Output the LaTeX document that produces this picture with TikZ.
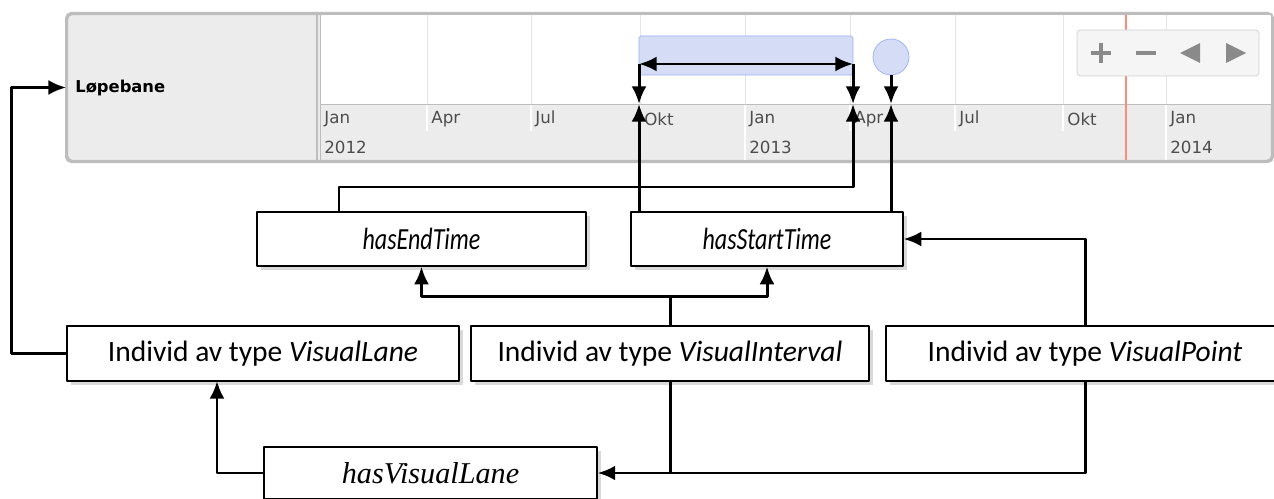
\documentclass[tikz,border=0pt]{standalone}
\usepackage{fontspec}
\setmainfont{Carlito}
\newfontfamily\narrowit[FakeStretch=0.78]{Carlito}
\newfontfamily\verd{DejaVu Sans}
\newfontfamily\tms{Liberation Serif}
\usetikzlibrary{arrows.meta,shadows}

\definecolor{panel}{HTML}{ECECEC}
\definecolor{frame}{HTML}{BDBDBD}
\definecolor{grid}{HTML}{E5E5E5}
\definecolor{itemfill}{HTML}{D5DDF6}
\definecolor{itemline}{HTML}{97B0F8}
\definecolor{nowline}{HTML}{FF8A7A}
\definecolor{labelgrey}{HTML}{4D4D4D}
\definecolor{navfill}{HTML}{F5F5F5}
\definecolor{navline}{HTML}{D0D0D0}
\definecolor{navicon}{HTML}{8A8A8A}

\tikzset{
  box/.style={draw, fill=white, line width=0.8pt, inner sep=0,
    font=\fontsize{16.8}{19}\selectfont,
    drop shadow={shadow xshift=2.5pt, shadow yshift=-2.5pt, opacity=0.3}},
  propbox/.style={box, font=\narrowit\itshape\fontsize{17.5}{19}\selectfont},
  month/.style={anchor=west, inner sep=0, text=labelgrey,
    font=\verd\fontsize{9.5}{11}\selectfont},
  link/.style={line width=1.7pt},
}

\begin{document}
\begin{tikzpicture}[x=0.02cm, y=-0.02cm, line join=round, >={Latex[length=10pt,width=8.5pt]}]
\useasboundingbox (0,0) rectangle (1274,499);

% timeline
\node[draw=frame, fill=panel, line width=1.2pt, rounded corners=3pt, inner sep=0,
  minimum width=24.1cm, minimum height=2.94cm] (tl) at (669.5,87.5) {};
\fill[white] (320,15) rectangle (1271,104);
\foreach \gx in {427,531,640,745,850,955,1063,1166}
  \draw[grid] (\gx,15) -- (\gx,104);
\foreach \gx in {427,531,640,850,955,1063}
  \draw[white, line width=0.8pt] (\gx,104) -- (\gx,131);
\foreach \gx in {745,1166}
  \draw[white, line width=0.8pt] (\gx,104) -- (\gx,160);
\draw[frame] (320,104) -- (1271,104);
\draw[frame, line width=0.8pt] (317,15) -- (317,160) (320.5,15) -- (320.5,160);
\draw[nowline, line width=1pt] (1126,15) -- (1126,160);
\draw[frame, line width=1.2pt, rounded corners=3pt] (tl.north west) rectangle (tl.south east);

\node[anchor=west, inner sep=0, font=\verd\bfseries\fontsize{9.3}{11}\selectfont] (lbl) at (75,88) {Løpebane};
\foreach \mx/\mn in {320/Jan,427/Apr,531/Jul,640/Okt,745/Jan,850/Apr,955/Jul,1063/Okt,1166/Jan}
  \node[month] (m\mx) at (\mx+4,119) {\mn};
\node[month] (y2012) at (324,147) {2012};
\node[month] (y2013) at (749,147) {2013};
\node[month] (y2014) at (1170,147) {2014};

% navigation
\node[draw=navline, fill=navfill, rounded corners=2pt, inner sep=0,
  minimum width=3.64cm, minimum height=0.92cm] (nav) at (1168,53) {};
\draw[navicon, line width=2.8pt] (1091,53) -- (1111,53) (1101,43) -- (1101,63);
\draw[navicon, line width=2.8pt] (1136,53) -- (1156,53);
\fill[navicon] (1180,53) -- (1200,43) -- (1200,63) -- cycle;
\fill[navicon] (1246,53) -- (1226,43) -- (1226,63) -- cycle;

% items
\node[draw=itemline, fill=itemfill, rounded corners=1pt, inner sep=0,
  minimum width=4.28cm, minimum height=0.78cm] (bar) at (746,55.5) {};
\node[circle, draw=itemline, fill=itemfill, inner sep=0, minimum size=0.72cm] (dot) at (891,57) {};

\coordinate (ta) at (639,64);
\coordinate (tb) at (853,64);
\coordinate (axa) at (639,104);
\coordinate (axb) at (853,104);
\coordinate (axc) at (891,104);
\coordinate (endup) at (339,187);
\coordinate (lanein) at (217,381);

% boxes
\node[propbox, minimum width=6.58cm, minimum height=1.08cm] (end) at (421.5,239) {hasEndTime};
\node[propbox, minimum width=5.44cm, minimum height=1.08cm] (start) at (767,239) {hasStartTime};
\node[box, minimum width=7.84cm, minimum height=1.1cm] (lane) at (263,353.5) {Individ av type \textit{VisualLane}};
\node[box, minimum width=7.96cm, minimum height=1.1cm] (ivl) at (670,353.5) {Individ av type \textit{VisualInterval}};
\node[box, minimum width=7.96cm, minimum height=1.1cm] (pnt) at (1085,353.5) {Individ av type \textit{VisualPoint}};
\node[box, minimum width=6.66cm, minimum height=1.04cm, font=\tms\itshape\fontsize{17.2}{19}\selectfont] (vlane) at (430.5,473) {hasVisualLane};

% connectors
\draw[link, <->] (ta) -- (tb);
\draw[link, ->] (ta) -- (axa);
\draw[link, ->] (tb) -- (axb);
\draw[link, ->] (dot.south) -- (axc);
\draw[link, ->] (start.north -| axa) -- (axa);
\draw[link, ->] (start.north -| axc) -- (axc);
\draw[link, ->] (end.north -| endup) -- (endup) -- (endup -| axb) -- (axb);
\draw[link, ->] (lane.west) -- ++(-55,0) |- (tl.west);
\draw[link, ->] (ivl.north) -- ++(0,-29) -| (end.south);
\draw[link, ->] (ivl.north) ++(0,-29) -| (start.south);
\draw[link, ->] (pnt.north) |- (start.east);
\draw[link] (ivl.south) -- (ivl.south |- vlane.east);
\draw[link, ->] (pnt.south) |- (vlane.east);
\draw[link, ->] (vlane.west) -| (lanein);
\end{tikzpicture}
\end{document}
